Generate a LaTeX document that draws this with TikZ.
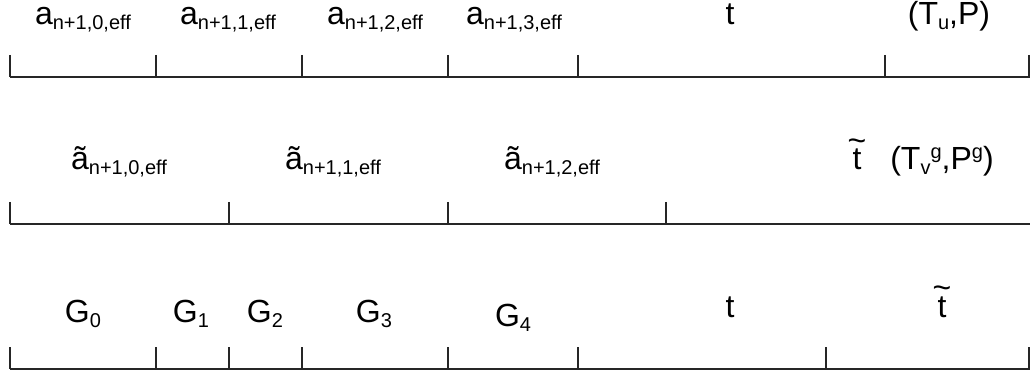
\documentclass[tikz,border=0pt]{standalone}
\usepackage{fontspec}
\setmainfont{Liberation Sans}
\usepackage{tikz}
\usetikzlibrary{positioning}

% small lowered / raised text and a t with a wide tilde
\newcommand\subtxt[1]{\raisebox{-5pt}{\fontsize{20}{20}\selectfont #1}}
\newcommand\suptxt[1]{\raisebox{11pt}{\fontsize{20}{20}\selectfont #1}}
\newcommand\tildet{\ooalign{t\cr\hidewidth\raisebox{0.58em}{\symbol{126}}\hidewidth\cr}}

\begin{document}
\begin{tikzpicture}[x=1pt, y=-1pt,
    every node/.style={font=\fontsize{32}{36}\selectfont, anchor=base, inner sep=0pt},
    seg/.style={line width=1.5pt, black!85}]

\useasboundingbox (0,0) rectangle (1030,374);

% Row 1: effective intervals
\draw[seg] (10,77) -- (1030,77);
\foreach \x in {10,156,302,448,578,885,1029}
  \draw[seg] (\x,55) -- (\x,77);
\node (a0) at (83,25) {a\subtxt{n+1,0,eff}};
\node (a1) at (228,25) {a\subtxt{n+1,1,eff}};
\node (a2) at (375,25) {a\subtxt{n+1,2,eff}};
\node (a3) at (514,25) {a\subtxt{n+1,3,eff}};
\node (t1) at (730,25) {t};
\node (tp1) at (949,25) {(T\subtxt{u},P)};

% Row 2: modified intervals
\draw[seg] (10,224) -- (1030,224);
\foreach \x in {10,229,448,666}
  \draw[seg] (\x,202) -- (\x,224);
\node (b0) at (119,170) {ã\subtxt{n+1,0,eff}};
\node (b1) at (333,170) {ã\subtxt{n+1,1,eff}};
\node (b2) at (552,170) {ã\subtxt{n+1,2,eff}};
\node (t2) at (857,170) {\tildet};
\node (tp2) at (942,170) {(T\subtxt{v}\suptxt{g},P\suptxt{g})};

% Row 3: groups
\draw[seg] (10,369) -- (1030,369);
\foreach \x in {10,156,229,302,448,578,826,1029}
  \draw[seg] (\x,347) -- (\x,369);
\node (g0) at (83,322) {G\subtxt{0}};
\node (g1) at (191,322) {G\subtxt{1}};
\node (g2) at (265,322) {G\subtxt{2}};
\node (g3) at (374,322) {G\subtxt{3}};
\node (g4) at (513,326) {G\subtxt{4}};
\node (t3) at (730,317) {t};
\node (t4) at (942,317) {\tildet};

\end{tikzpicture}
\end{document}
